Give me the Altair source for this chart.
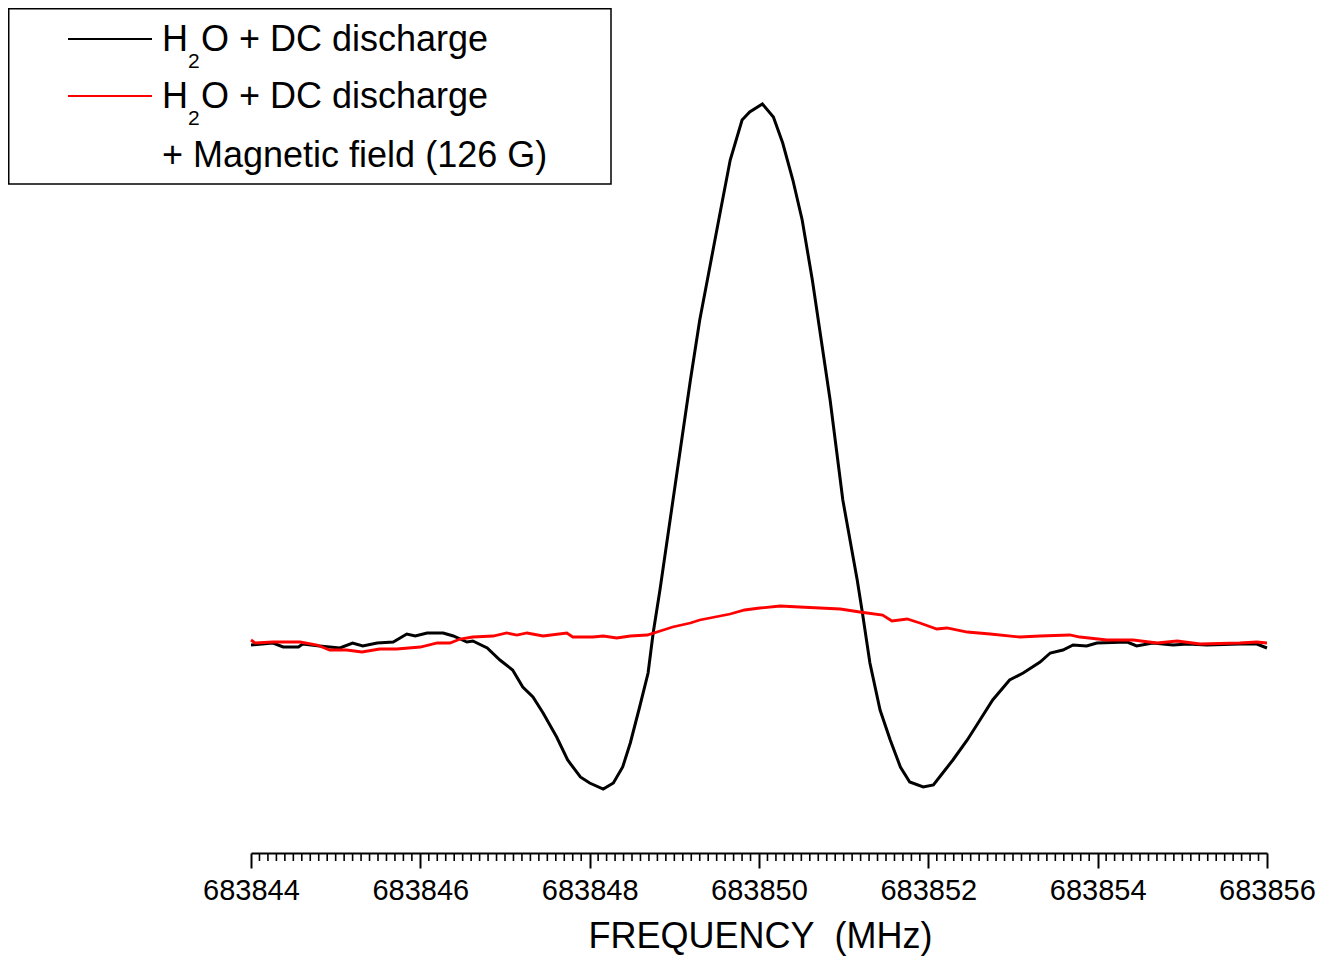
import altair as alt
import pandas as pd

FONT = "Liberation Sans"

# ---- data (intensity in arbitrary units) ----
black_freq = [683844.00, 683844.26, 683844.38, 683844.56, 683844.61, 683844.81, 683845.05, 683845.20,
              683845.32, 683845.49, 683845.68, 683845.84, 683845.94, 683846.08, 683846.27, 683846.39,
              683846.55, 683846.62, 683846.79, 683846.94, 683847.09, 683847.21, 683847.33, 683847.45,
              683847.61, 683847.74, 683847.89, 683848.00, 683848.16, 683848.28, 683848.39, 683848.48,
              683848.59, 683848.69, 683848.75, 683848.83, 683848.95, 683849.07, 683849.19, 683849.30,
              683849.39, 683849.54, 683849.66, 683849.80, 683849.89, 683850.04, 683850.17, 683850.28,
              683850.40, 683850.51, 683850.63, 683850.84, 683850.99, 683851.16, 683851.22, 683851.31,
              683851.43, 683851.55, 683851.67, 683851.78, 683851.94, 683852.06, 683852.17, 683852.29,
              683852.46, 683852.61, 683852.76, 683852.96, 683853.12, 683853.32, 683853.44, 683853.59,
              683853.71, 683853.87, 683853.99, 683854.35, 683854.46, 683854.65, 683854.89, 683855.06,
              683855.29, 683855.68, 683855.88, 683856.00]
black_int = [0, 2, -2, -2, 1, -1, -3, 2, -1, 2,
             3, 11, 9, 12, 12, 9, 3, 4, -3, -15,
             -25, -42, -52, -68, -92, -115, -132, -138, -144, -138,
             -122, -98, -62, -28, 12, 55, 125, 195, 265, 325,
             365, 432, 485, 525, 533, 541, 528, 502, 465, 425,
             365, 245, 145, 65, 33, -18, -65, -95, -122, -137,
             -142, -140, -128, -115, -95, -75, -55, -35, -28, -17,
             -8, -5, 0, -1, 2, 3, -1, 2, 0, 1,
             0, 1, 1, -3]

red_freq = [683844.00, 683844.05, 683844.26, 683844.58, 683844.78, 683844.93, 683845.13, 683845.31,
            683845.52, 683845.72, 683846.00, 683846.20, 683846.35, 683846.47, 683846.62, 683846.86,
            683847.02, 683847.14, 683847.26, 683847.45, 683847.73, 683847.80, 683848.04, 683848.16,
            683848.32, 683848.48, 683848.68, 683848.87, 683848.98, 683849.19, 683849.30, 683849.48,
            683849.66, 683849.83, 683850.01, 683850.25, 683850.48, 683850.72, 683850.96, 683851.19,
            683851.46, 683851.57, 683851.75, 683851.90, 683852.10, 683852.22, 683852.46, 683852.73,
            683853.08, 683853.32, 683853.67, 683853.79, 683854.11, 683854.42, 683854.70, 683854.94,
            683855.21, 683855.68, 683855.88, 683856.00]
red_int = [5, 2, 3, 3, 0, -5, -5, -7, -4, -4,
           -2, 2, 2, 6, 8, 9, 12, 10, 12, 9,
           12, 8, 8, 9, 7, 9, 10, 15, 18, 22,
           25, 28, 31, 35, 37, 39, 38, 37, 36, 33,
           30, 24, 26, 22, 16, 17, 13, 11, 8, 9,
           10, 8, 5, 5, 2, 4, 1, 2, 3, 2]

major_ticks = [683844, 683846, 683848, 683850, 683852, 683854, 683856]
minor_ticks = [683844 + i / 10 for i in range(121) if i % 20 != 0]

x_domain = [683844, 683856]
y_domain = [-208, 637]

legend_line1 = ["H", "2", "O + DC discharge"]
legend_line2 = ["H", "2", "O + DC discharge"]
legend_line3 = "+ Magnetic field (126 G)"
x_title = "FREQUENCY\u00a0\u00a0(MHz)"

W, H = 1016, 845

black_df = pd.DataFrame({"f": black_freq, "v": black_int})
red_df = pd.DataFrame({"f": red_freq, "v": red_int})
minor_df = pd.DataFrame({"f": minor_ticks})
one = pd.DataFrame({"a": [0]})

x_enc = alt.X(
    "f:Q",
    scale=alt.Scale(domain=x_domain, nice=False, zero=False),
    axis=alt.Axis(
        values=major_ticks, format="d", grid=False, labelFlush=False, labelOverlap=False,
        labelFont=FONT, labelFontSize=29, labelColor="black", labelPadding=8,
        tickSize=15, tickWidth=2, tickColor="black",
        domainColor="black", domainWidth=2,
        title=x_title, titleFont=FONT, titleFontSize=36, titleFontWeight="normal",
        titleColor="black", titleX=W / 2 + 1, titleY=94, titleAlign="center",
        titleBaseline="alphabetic",
    ),
)
y_enc = alt.Y("v:Q", scale=alt.Scale(domain=y_domain, nice=False, zero=False), axis=None)

black_line = alt.Chart(black_df).mark_line(color="black", strokeWidth=3, clip=False).encode(
    x=x_enc, y=y_enc)
red_line = alt.Chart(red_df).mark_line(color="#ff0000", strokeWidth=2.8, clip=False).encode(
    x=alt.X("f:Q"), y=alt.Y("v:Q"))

minor = alt.Chart(minor_df).mark_rule(color="black", strokeWidth=1.6).encode(
    x=alt.X("f:Q"), y=alt.value(H), y2=alt.value(H + 8))

# ---- legend (drawn as chrome in pixel space) ----
box = alt.Chart(one).mark_rect(fill="white", stroke="black", strokeWidth=1.5).encode(
    x=alt.value(-242.25), x2=alt.value(360), y=alt.value(0.75), y2=alt.value(176))
leg_black = alt.Chart(one).mark_rule(color="black", strokeWidth=2.2).encode(
    x=alt.value(-183), x2=alt.value(-99), y=alt.value(31))
leg_red = alt.Chart(one).mark_rule(color="#ff0000", strokeWidth=2.2).encode(
    x=alt.value(-183), x2=alt.value(-99), y=alt.value(88))


def txt(s, x, y, size):
    return alt.Chart(one).mark_text(
        text=s, align="left", baseline="alphabetic", font=FONT, fontSize=size, color="black"
    ).encode(x=alt.value(x), y=alt.value(y))


legend_layers = [
    box, leg_black, leg_red,
    txt(legend_line1[0], -89, 43, 36), txt(legend_line1[1], -63, 60, 21), txt(legend_line1[2], -50, 43, 36),
    txt(legend_line2[0], -89, 100, 36), txt(legend_line2[1], -63, 117, 21), txt(legend_line2[2], -50, 100, 36),
    txt(legend_line3, -89, 159, 36),
]

chart = alt.layer(black_line, red_line, minor, *legend_layers).properties(
    width=W, height=H,
    padding={"left": 243, "top": 0, "right": 59, "bottom": 106},
    autosize=alt.AutoSizeParams(type="none"),
).configure_view(stroke=None)

chart.save("out.html", embed_options={"renderer": "svg", "actions": False})
